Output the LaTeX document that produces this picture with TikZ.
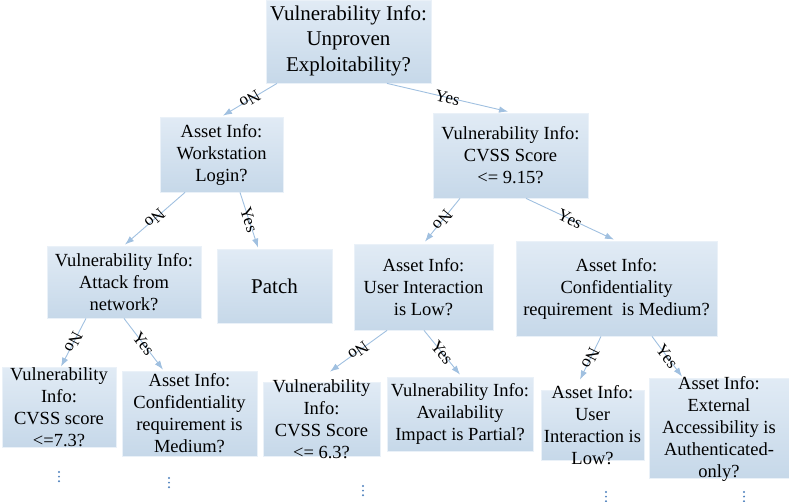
\documentclass[tikz,border=0pt]{standalone}
\usepackage{fontspec}
\setmainfont{Liberation Serif}
\newfontfamily\treefont{Liberation Serif}
\usetikzlibrary{arrows.meta}
\definecolor{boxtop}{RGB}{225,235,245}
\definecolor{boxbot}{RGB}{198,216,233}
\definecolor{boxrim}{RGB}{234,241,248}
\definecolor{edgeblue}{RGB}{160,192,224}
\definecolor{dotblue}{RGB}{79,129,189}
\begin{document}
\begin{tikzpicture}[x=1pt,y=-1pt,
  box/.style={rectangle, top color=boxtop, bottom color=boxbot, draw=boxrim,
    line width=0.8pt, inner sep=0pt},
  txt/.style={align=center, inner sep=0pt, font=\treefont\fontsize{18.5}{22}\selectfont},
  bigtxt/.style={align=center, inner sep=0pt, font=\treefont\fontsize{21}{25.5}\selectfont},
  link/.style={draw=edgeblue, line width=0.9pt, -{Latex[length=9pt,width=6.5pt]}},
  tag/.style={midway, sloped, allow upside down, inner sep=0pt,
    font=\treefont\fontsize{17}{17}\selectfont},
  dotcol/.style={fill=dotblue}
]
\useasboundingbox (0,0) rectangle (789,501);

% decision boxes
\node[box, minimum width=165pt, minimum height=83pt] (root)  at (348.5,41.5) {};
\node[box, minimum width=123pt, minimum height=75pt] (ws)    at (221.5,154.5) {};
\node[box, minimum width=155pt, minimum height=85pt] (cvA)   at (510.5,155.5) {};
\node[box, minimum width=154pt, minimum height=72pt] (atk)   at (124,282) {};
\node[box, minimum width=115pt, minimum height=74pt] (patch) at (274.5,286) {};
\node[box, minimum width=139pt, minimum height=86pt] (uiA)   at (423.5,287) {};
\node[box, minimum width=201pt, minimum height=95pt] (confA) at (616.5,288.5) {};
\node[box, minimum width=114pt, minimum height=80pt] (cvB)   at (59,407) {};
\node[box, minimum width=135pt, minimum height=85pt] (confB) at (189.5,413.5) {};
\node[box, minimum width=117pt, minimum height=74pt] (cvC)   at (321.5,419) {};
\node[box, minimum width=146pt, minimum height=74pt] (avl)   at (460,414) {};
\node[box, minimum width=103pt, minimum height=70pt] (uiB)   at (592.5,425) {};
\node[box, minimum width=142pt, minimum height=100pt] (ext)  at (720,428) {};

% box texts
\node[bigtxt] (rootT)  at (348.5,40.5) {Vulnerability Info:\\Unproven\\Exploitability?};
\node[txt]    (wsT)    at (221.5,155) {Asset Info:\\Workstation\\Login?};
\node[txt]    (cvAT)   at (510.5,155) {Vulnerability Info:\\CVSS Score\\<= 9.15?};
\node[txt]    (atkT)   at (124,282) {Vulnerability Info:\\Attack from\\network?};
\node[bigtxt] (patchT) at (274.5,286) {Patch};
\node[txt]    (uiAT)   at (423.5,287) {Asset Info:\\User Interaction\\is Low?};
\node[txt]    (confAT) at (616.5,289) {Asset Info:\\Confidentiality\\requirement~~is Medium?};
\node[txt]    (cvBT)   at (59,407.5) {Vulnerability\\Info:\\CVSS score\\<=7.3?};
\node[txt]    (confBT) at (189.5,413.5) {Asset Info:\\Confidentiality\\requirement is\\Medium?};
\node[txt]    (cvCT)   at (321.5,419.5) {Vulnerability\\Info:\\CVSS Score\\<= 6.3?};
\node[txt]    (avlT)   at (460,414) {Vulnerability Info:\\Availability\\Impact is Partial?};
\node[txt]    (uiBT)   at (592.5,425) {Asset Info:\\User\\Interaction is\\Low?};
\node[txt]    (extT)   at (719,428.5) {Asset Info:\\External\\Accessibility is\\Authenticated-\\only?};

% branches
\draw[link] ([shift={(-71.5,0)}]root.south) -- node[tag]{No}  ([shift={(1.5,-1)}]ws.north);
\draw[link] ([shift={(38.5,0)}]root.south)  -- node[tag]{Yes} ([shift={(-2.5,-1)}]cvA.north);
\draw[link] ([shift={(-36.5,0)}]ws.south)   -- node[tag]{No}  ([shift={(1,-1)}]atk.north);
\draw[link] ([shift={(18.5,0)}]ws.south)    -- node[tag]{Yes} ([shift={(-16.5,-1)}]patch.north);
\draw[link] ([shift={(-50.5,0)}]cvA.south)  -- node[tag]{No}  ([shift={(1.5,-2)}]uiA.north);
\draw[link] ([shift={(15.5,0)}]cvA.south)   -- node[tag]{Yes} ([shift={(-2.5,-1)}]confA.north);
\draw[link] ([shift={(-38,0)}]atk.south)    -- node[tag]{No}  ([shift={(2,0)}]cvB.north);
\draw[link] ([shift={(0,0)}]atk.south)      -- node[tag]{Yes} ([shift={(-26.5,-1)}]confB.north);
\draw[link] ([shift={(-36.5,0)}]uiA.south)  -- node[tag]{No}  ([shift={(8.5,-10)}]cvC.north);
\draw[link] ([shift={(0.5,0)}]uiA.south)    -- node[tag]{Yes} ([shift={(0,-2)}]avl.north);
\draw[link] ([shift={(-15.5,0)}]confA.south)-- node[tag]{No}  ([shift={(-12.5,-10)}]uiB.north);
\draw[link] ([shift={(35.5,0)}]confA.south) -- node[tag]{Yes} ([shift={(-38,-1)}]ext.north);

% continuation marks
\foreach \x/\y in {59/472, 169/478, 363/486, 606/492, 744/492}{
  \foreach \k in {0,1,2}{
    \fill[dotcol] (\x,\y+4.6*\k) circle (1.1pt);
  }
}
\end{tikzpicture}
\end{document}
